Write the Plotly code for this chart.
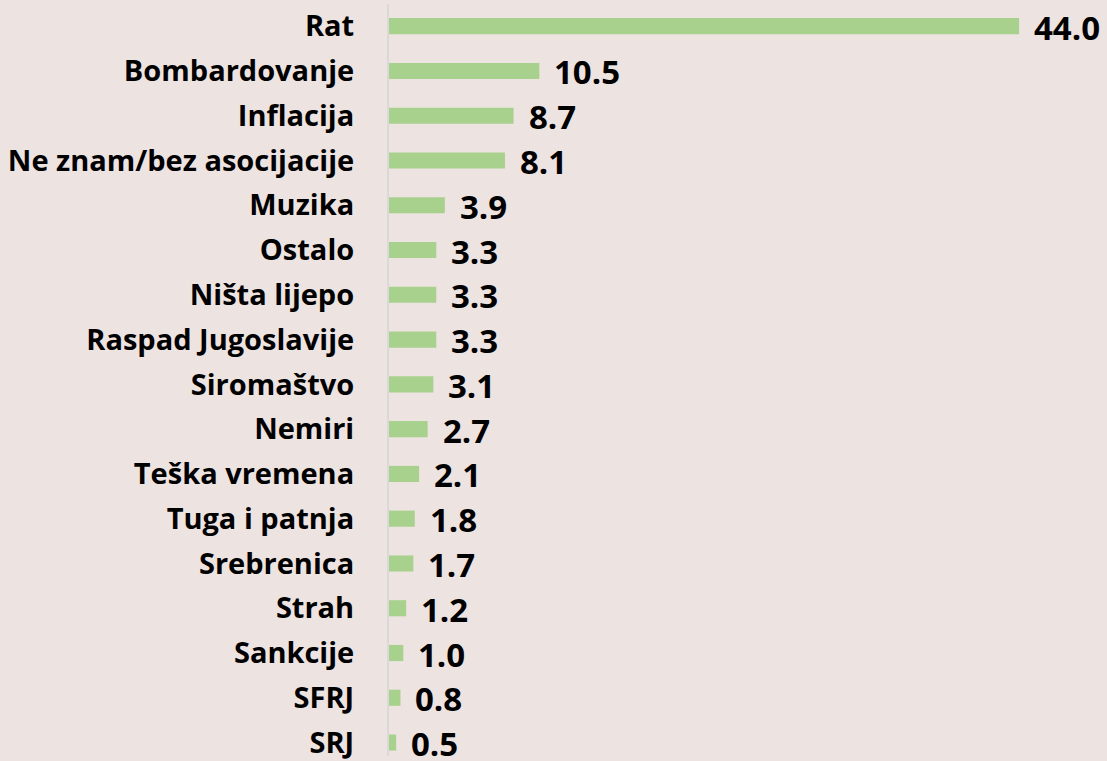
import plotly.graph_objects as go

categories = ["Rat", "Bombardovanje", "Inflacija", "Ne znam/bez asocijacije", "Muzika",
              "Ostalo", "Ništa lijepo", "Raspad Jugoslavije", "Siromaštvo", "Nemiri",
              "Teška vremena", "Tuga i patnja", "Srebrenica", "Strah", "Sankcije",
              "SFRJ", "SRJ"]
values = [44.0, 10.5, 8.7, 8.1, 3.9, 3.3, 3.3, 3.3, 3.1, 2.7, 2.1, 1.8, 1.7, 1.2, 1.0, 0.8, 0.5]
value_labels = [f"{v:.1f}" for v in values]

BG = "#EDE3E1"
BAR = "#A9D18E"
FONT = "Open Sans"

fig = go.Figure()
fig.add_trace(go.Bar(
    x=values, y=categories, orientation="h",
    marker=dict(color=BAR, line=dict(width=0)),
    width=0.36, hoverinfo="skip",
))

for c, v, t in zip(categories, values, value_labels):
    fig.add_annotation(
        x=v, y=c, text=t, showarrow=False,
        xanchor="left", yanchor="middle", xshift=13, yshift=-1,
        font=dict(family=FONT, size=33, color="#000000", weight="bold"),
    )

fig.update_layout(
    width=1107, height=761,
    paper_bgcolor=BG, plot_bgcolor=BG,
    margin=dict(l=389, r=2, t=4, b=0),
    showlegend=False,
    xaxis=dict(range=[0, 50], visible=False, showgrid=False, zeroline=False),
    yaxis=dict(
        type="category", categoryorder="array", categoryarray=categories,
        range=[16.30, -0.495], showgrid=False, zeroline=False,
        showline=True, linecolor="#D9D9D9", linewidth=2,
        ticks="", ticklabelstandoff=27,
        tickfont=dict(family=FONT, size=29, color="#000000", weight="bold"),
    ),
)

fig.write_html(
    "out.html",
    config={"displayModeBar": False},
    post_script="document.body.style.margin='0';document.body.style.background='%s';" % BG,
)
